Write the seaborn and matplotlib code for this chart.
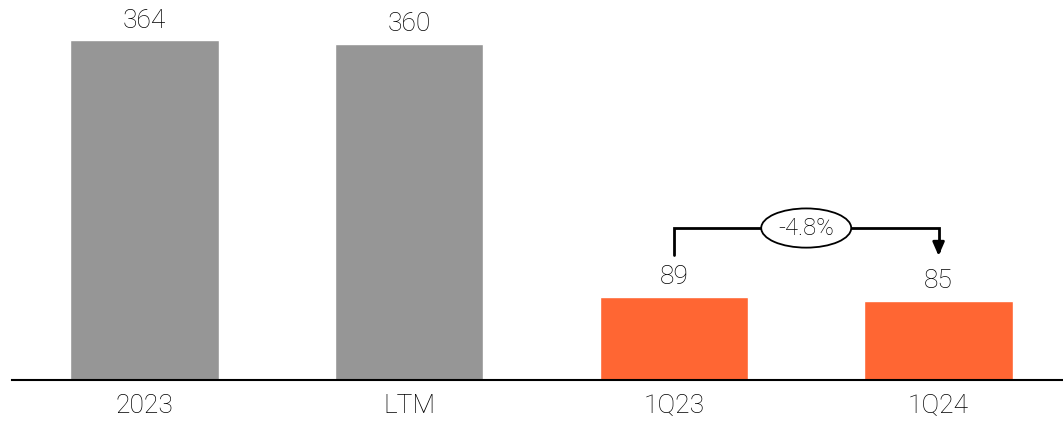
import matplotlib
matplotlib.use("Agg")
import matplotlib.pyplot as plt
import seaborn as sns
import pandas as pd
from matplotlib.patches import Ellipse

# Dane
okresy = ['2023', 'LTM', '1Q23', '1Q24']
wartosci = [364, 360, 89, 85]
kolory = ['#969696', '#969696', '#FF6633', '#FF6633']
zmiana = '-4.8%'

df = pd.DataFrame({'okres': okresy, 'wartosc': wartosci})

sns.set_style('white')
plt.rcParams['font.family'] = ['Roboto', 'DejaVu Sans']
plt.rcParams['font.weight'] = 'light'
plt.rcParams['text.color'] = 'black'
plt.rcParams['xtick.color'] = 'black'

fig = plt.figure(figsize=(10.63, 4.24), dpi=100)
ax = fig.add_axes([0.0113, 0.104, 0.9887, 0.896])

sns.barplot(data=df, x='okres', y='wartosc', hue='okres', palette=kolory,
            width=0.56, legend=False, ax=ax, saturation=1)

ax.set_xlim(-0.5, 3.47)
ax.set_ylim(0, 407)
ax.set_xlabel('')
ax.set_ylabel('')
ax.set_yticks([])
for s in ['top', 'right', 'left']:
    ax.spines[s].set_visible(False)
ax.spines['bottom'].set_color('black')
ax.spines['bottom'].set_linewidth(1.5)
ax.tick_params(axis='x', length=0, pad=10, labelsize=19)

# Etykiety wartości
for i, v in enumerate(wartosci):
    ax.text(i, v + 8, str(v), ha='center', va='bottom', fontsize=19)

# Strzałka zmiany 1Q23 -> 1Q24
y_top = 162.7
ax.plot([2, 2, 3, 3], [wartosci[2] + 45, y_top, y_top, wartosci[3] + 53],
        color='black', lw=2, solid_joinstyle='miter')
ax.annotate('', xy=(3, wartosci[3] + 45), xytext=(3, wartosci[3] + 56),
            arrowprops=dict(arrowstyle='-|>,head_width=0.35,head_length=0.8',
                            color='black', lw=2))
ax.add_patch(Ellipse((2.5, y_top), width=0.34, height=42, facecolor='white',
                     edgecolor='black', lw=1.3, zorder=5))
ax.text(2.5, y_top, zmiana, ha='center', va='center', fontsize=17, zorder=6)

fig.savefig('out.png', dpi=100)
